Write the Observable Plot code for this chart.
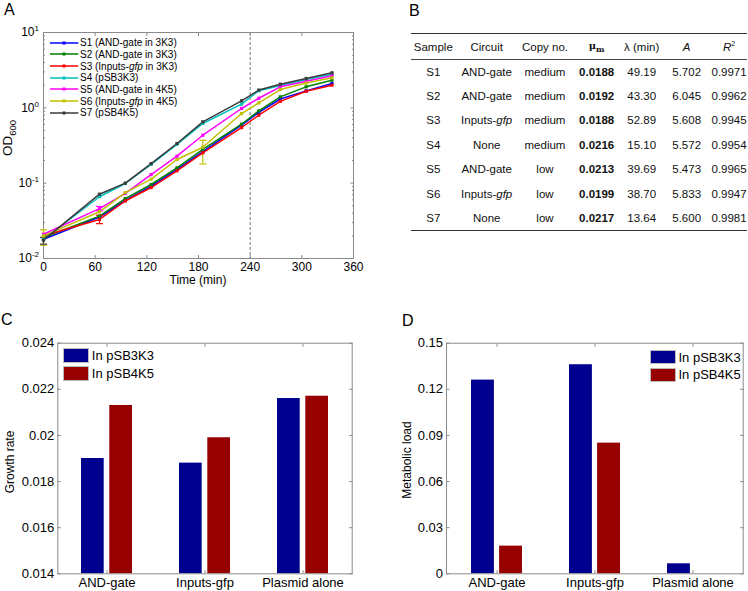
<!DOCTYPE html>
<html><head><meta charset="utf-8">
<script src="https://cdn.jsdelivr.net/npm/d3@7"></script>
<script src="https://cdn.jsdelivr.net/npm/@observablehq/plot@0.6"></script>
<style>
body{margin:0;background:#fff;font-family:"Liberation Sans",Arial,Helvetica,sans-serif;color:#000;}
#page{position:relative;width:748px;height:591px;overflow:hidden;background:#fff;}
.abs{position:absolute;}
.letter{position:absolute;font-size:16px;line-height:16px;}
.ctr{position:absolute;white-space:nowrap;transform:translate(-50%,-50%);}
.rot{position:absolute;white-space:nowrap;transform:translate(-50%,-50%) rotate(-90deg);}
#tbl{position:absolute;left:411px;top:33px;width:336px;border-collapse:collapse;table-layout:fixed;font-size:11.5px;color:#111;}
#tbl td,#tbl th{padding:0;text-align:center;font-weight:normal;white-space:nowrap;}
#tbl thead tr{border-top:1.6px solid #333;border-bottom:1px solid #444;}
#tbl tbody tr:last-child{border-bottom:1.6px solid #333;}
.leg{position:absolute;}
.legrow{display:flex;align-items:center;white-space:nowrap;}
</style></head>
<body><div id="page"></div>
<script>
// ---------- Panel A data ----------
const times = [0, 65, 95, 125, 155, 185, 230, 250, 275, 305, 335];
const seriesKeys = ["S1", "S2", "S3", "S4", "S5", "S6", "S7"];
const seriesLabels = ["S1 (AND-gate in 3K3)", "S2 (AND-gate in 3K3)", "S3 (Inputs-<i>gfp</i> in 3K3)", "S4 (pSB3K3)", "S5 (AND-gate in 4K5)", "S6 (Inputs-<i>gfp</i> in 4K5)", "S7 (pSB4K5)"];
const s1 = [0.018, 0.0355, 0.059, 0.091, 0.152, 0.262, 0.59, 0.87, 1.31, 1.68, 2.10];
const s2 = [0.019, 0.0365, 0.0625, 0.096, 0.160, 0.28, 0.606, 0.91, 1.40, 1.90, 2.33];
const s3 = [0.020, 0.033, 0.058, 0.0875, 0.146, 0.253, 0.548, 0.80, 1.22, 1.66, 2.00];
const s4 = [0.018, 0.066, 0.099, 0.178, 0.328, 0.62, 1.12, 1.69, 1.98, 2.38, 2.80];
const s5 = [0.021, 0.046, 0.073, 0.130, 0.228, 0.433, 0.98, 1.34, 1.90, 2.26, 2.66];
const s6 = [0.020, 0.0417, 0.075, 0.113, 0.206, 0.30, 0.84, 1.16, 1.75, 2.13, 2.50];
const s7 = [0.0175, 0.0714, 0.100, 0.182, 0.336, 0.652, 1.24, 1.72, 2.06, 2.45, 2.92];
const errSeries = ["S6", "S3", "S6", "S5", "S7"];
const errTime = [0, 65, 185, 65, 0];
const errLo = [0.0150, 0.0290, 0.18, 0.043, 0.0155];
const errHi = [0.0240, 0.0375, 0.37, 0.049, 0.0190];
const cutoffTime = [240];
const xTicksA = [0, 60, 120, 180, 240, 300, 360];
const yMajorA = [0.01, 0.1, 1, 10];

// ---------- Panel B data ----------
const tblSample = ["S1", "S2", "S3", "S4", "S5", "S6", "S7"];
const tblCircuit = ["AND-gate", "AND-gate", "Inputs-<i>gfp</i>", "None", "AND-gate", "Inputs-<i>gfp</i>", "None"];
const tblCopy = ["medium", "medium", "medium", "medium", "low", "low", "low"];
const tblMu = ["0.0188", "0.0192", "0.0188", "0.0216", "0.0213", "0.0199", "0.0217"];
const tblLambda = ["49.19", "43.30", "52.89", "15.10", "39.69", "38.70", "13.64"];
const tblA = ["5.702", "6.045", "5.608", "5.572", "5.473", "5.833", "5.600"];
const tblR2 = ["0.9971", "0.9962", "0.9945", "0.9954", "0.9965", "0.9947", "0.9981"];
const tblHeader = ["Sample", "Circuit", "Copy no.", "<b style=\"font-family:'DejaVu Serif',serif;font-size:10px\">&mu;<sub style=\"font-size:8px\">m</sub></b>", "&lambda; (min)", "<i>A</i>", "<i>R</i><sup style=\"font-size:7px\">2</sup>"];

// ---------- Panels C & D data ----------
const categories = ["AND-gate", "Inputs-gfp", "Plasmid alone"];
const plasmids = ["In pSB3K3", "In pSB4K5"];
const growth3K3 = [0.0190, 0.0188, 0.0216];
const growth4K5 = [0.0213, 0.0199, 0.0217];
const load3K3 = [0.126, 0.136, 0.0065];
const load4K5 = [0.018, 0.085, 0];
const yTicksC = [0.014, 0.016, 0.018, 0.02, 0.022, 0.024];
const yTicksD = [0, 0.03, 0.06, 0.09, 0.12, 0.15];

// ---------- styles ----------
const seriesColors = ["#0000ff", "#008000", "#ff0000", "#00bfbf", "#ff00ff", "#bfbf00", "#3a3a3a"];
const barColors = ["#00008f", "#960000"];
const frameColor = "#8a8a8a";
const FONT = "'Liberation Sans', Arial, Helvetica, sans-serif";

const page = document.getElementById("page");
function place(el, left, top) { el.style.position = "absolute"; el.style.left = left + "px"; el.style.top = top + "px"; page.appendChild(el); return el; }
function html(cls, h, css) { const d = document.createElement("div"); d.className = cls; d.innerHTML = h; Object.assign(d.style, css || {}); page.appendChild(d); return d; }

// rich text: ^{..} superscript, _{..} subscript
function richify(root) {
  const NS = "http://www.w3.org/2000/svg";
  root.querySelectorAll("text").forEach(t => {
    const s = t.textContent;
    if (!/[\^_]\{/.test(s)) return;
    const parts = s.split(/(\^\{[^}]*\}|_\{[^}]*\})/).filter(p => p);
    t.textContent = "";
    let shift = 0;
    for (const p of parts) {
      const ts = document.createElementNS(NS, "tspan");
      let target = 0, txt = p, small = false;
      if (p.startsWith("^{")) { txt = p.slice(2, -1); target = -5; small = true; }
      else if (p.startsWith("_{")) { txt = p.slice(2, -1); target = 3; small = true; }
      ts.setAttribute("dy", target - shift); shift = target;
      if (small) ts.setAttribute("font-size", "8px");
      ts.textContent = txt;
      t.appendChild(ts);
    }
  });
}

// ---------- Panel A ----------
const seriesVals = [s1, s2, s3, s4, s5, s6, s7];
const lineData = seriesKeys.flatMap((k, i) => times.map((t, j) => ({ s: k, t, v: seriesVals[i][j] })));
const errData = errSeries.map((s, i) => ({ s, t: errTime[i], lo: errLo[i], hi: errHi[i] }));
const yMinorA = [];
for (const base of [0.01, 0.1, 1]) for (let m = 2; m <= 9; m++) yMinorA.push(+(base * m).toPrecision(3));
const capSymbol = { draw(ctx, size) { const w = Math.sqrt(size); ctx.moveTo(-w, 0); ctx.lineTo(w, 0); } };

const plotA = Plot.plot({
  width: 370, height: 290, marginLeft: 43, marginRight: 17, marginTop: 32, marginBottom: 32,
  style: { fontFamily: FONT, fontSize: "12px", background: "transparent", color: "#000", overflow: "visible" },
  x: { domain: [0, 360] },
  y: { type: "log", domain: [0.01, 10] },
  color: { domain: seriesKeys, range: seriesColors },
  marks: [
    Plot.ruleX(cutoffTime, { stroke: "#777", strokeDasharray: "3,2" }),
    Plot.frame({ stroke: frameColor }),
    Plot.axisX(xTicksA, { tickSize: -3, tickPadding: 7, stroke: frameColor, label: null }),
    Plot.axisX(xTicksA, { anchor: "top", tickSize: -3, tickFormat: () => "", stroke: frameColor, label: null }),
    Plot.axisY(yMajorA, { tickSize: -3.5, tickPadding: 8, stroke: frameColor, label: null, tickFormat: d => `10^{${Math.round(Math.log10(d))}}` }),
    Plot.axisY(yMajorA, { anchor: "right", tickSize: -3.5, tickFormat: () => "", stroke: frameColor, label: null }),
    Plot.axisY(yMinorA, { tickSize: -2, tickFormat: () => "", stroke: frameColor, label: null }),
    Plot.axisY(yMinorA, { anchor: "right", tickSize: -2, tickFormat: () => "", stroke: frameColor, label: null }),
    Plot.line(lineData, { x: "t", y: "v", stroke: "s", z: "s", strokeWidth: 1.5 }),
    Plot.ruleX(errData, { x: "t", y1: "lo", y2: "hi", stroke: "s", strokeWidth: 1.2 }),
    Plot.dot(errData, { x: "t", y: "lo", stroke: "s", symbol: capSymbol, r: 2, strokeWidth: 1.2 }),
    Plot.dot(errData, { x: "t", y: "hi", stroke: "s", symbol: capSymbol, r: 2, strokeWidth: 1.2 }),
    Plot.dot(lineData, { x: "t", y: "v", fill: "s", symbol: "square", r: 1.8 })
  ]
});
richify(plotA);
place(plotA, 0, 0);
html("letter", "A", { left: "4px", top: "2px" });
html("ctr", "Time (min)", { left: "198px", top: "280px", fontSize: "12px" });
html("rot", "OD<sub style='font-size:9.5px'>600</sub>", { left: "9px", top: "138px", fontSize: "13.5px" });

// legend A
const legA = document.createElement("div"); legA.className = "leg";
seriesLabels.forEach((lab, i) => {
  const r = document.createElement("div"); r.className = "legrow"; r.style.height = "11.67px";
  r.innerHTML = `<svg width="30" height="10" style="flex:none"><line x1="0" y1="5" x2="28.3" y2="5" stroke="${seriesColors[i]}" stroke-width="1.5"/><rect x="12.5" y="3.5" width="3" height="3" fill="${seriesColors[i]}"/></svg><span style="font-size:10px;margin-left:0px">${lab}</span>`;
  legA.appendChild(r);
});
place(legA, 50, 37);

// ---------- Panel B ----------
html("letter", "B", { left: "409px", top: "3px" });
const tbl = document.createElement("table"); tbl.id = "tbl";
const colW = [44.6, 62.2, 54.4, 49, 41, 49, 35.8];
let h = "<colgroup>" + colW.map(w => `<col style="width:${w}px">`).join("") + "</colgroup>";
h += "<thead><tr style='height:26px'>" + tblHeader.map(x => `<th>${x}</th>`).join("") + "</tr></thead><tbody>";
tblSample.forEach((s, i) => {
  h += `<tr style="height:24.4px"><td>${s}</td><td>${tblCircuit[i]}</td><td>${tblCopy[i]}</td><td><b>${tblMu[i]}</b></td><td>${tblLambda[i]}</td><td>${tblA[i]}</td><td>${tblR2[i]}</td></tr>`;
});
h += "</tbody>";
tbl.innerHTML = h;
page.appendChild(tbl);

// ---------- Panels C & D ----------
function barPanel(vals3, vals4, yDomain, yTicks, opts) {
  const d3k = categories.map((c, i) => ({ c, v: vals3[i] }));
  const d4k = categories.map((c, i) => ({ c, v: vals4[i] }));
  const p = Plot.plot({
    width: opts.width, height: 291, marginLeft: opts.ml, marginRight: opts.mr, marginTop: 42.7, marginBottom: 17.7,
    style: { fontFamily: FONT, fontSize: "13px", background: "transparent", color: "#000", overflow: "visible" },
    x: { domain: categories, paddingInner: 0.48, paddingOuter: 0.24 },
    y: { domain: yDomain },
    marks: [
      Plot.barY(d3k, { x: "c", y1: yDomain[0], y2: "v", fill: barColors[0], insetRight: opts.inset }),
      Plot.barY(d4k, { x: "c", y1: yDomain[0], y2: "v", fill: barColors[1], insetLeft: opts.inset }),
      Plot.frame({ stroke: frameColor }),
      Plot.axisX({ tickSize: -3, tickPadding: 7, stroke: frameColor, label: null }),
      Plot.axisX({ anchor: "top", tickSize: -3, tickFormat: () => "", stroke: frameColor, label: null }),
      Plot.axisY(yTicks, { tickSize: -3.5, tickPadding: 7, stroke: frameColor, label: null, tickFormat: d => String(+d.toFixed(3)) }),
      Plot.axisY(yTicks, { anchor: "right", tickSize: -3.5, tickFormat: () => "", stroke: frameColor, label: null })
    ]
  });
  return p;
}
const plotC = barPanel(growth3K3, growth4K5, [0.014, 0.024], yTicksC, { width: 370, ml: 57.3, mr: 18.3, inset: 28.3 });
place(plotC, 0, 300);
const plotD = barPanel(load3K3, load4K5, [0, 0.15], yTicksD, { width: 378, ml: 76, mr: 5.3, inset: 28.1 });
place(plotD, 370, 300);

html("letter", "C", { left: "1px", top: "312px" });
html("letter", "D", { left: "402px", top: "313px" });
html("rot", "Growth rate", { left: "10px", top: "462px", fontSize: "12px" });
html("rot", "Metabolic load", { left: "407px", top: "460px", fontSize: "12px" });

function barLegend(left, top) {
  const lg = document.createElement("div"); lg.className = "leg";
  plasmids.forEach((p, i) => {
    const r = document.createElement("div"); r.className = "legrow"; r.style.height = "17.7px";
    r.innerHTML = `<span style="display:inline-block;width:24px;height:12.5px;background:${barColors[i]};border:0.5px solid #bbb;flex:none"></span><span style="font-size:13px;margin-left:2.5px">${p}</span>`;
    lg.appendChild(r);
  });
  place(lg, left, top);
}
barLegend(63.3, 346.8);
barLegend(650, 348.3);
</script>
</body></html>
